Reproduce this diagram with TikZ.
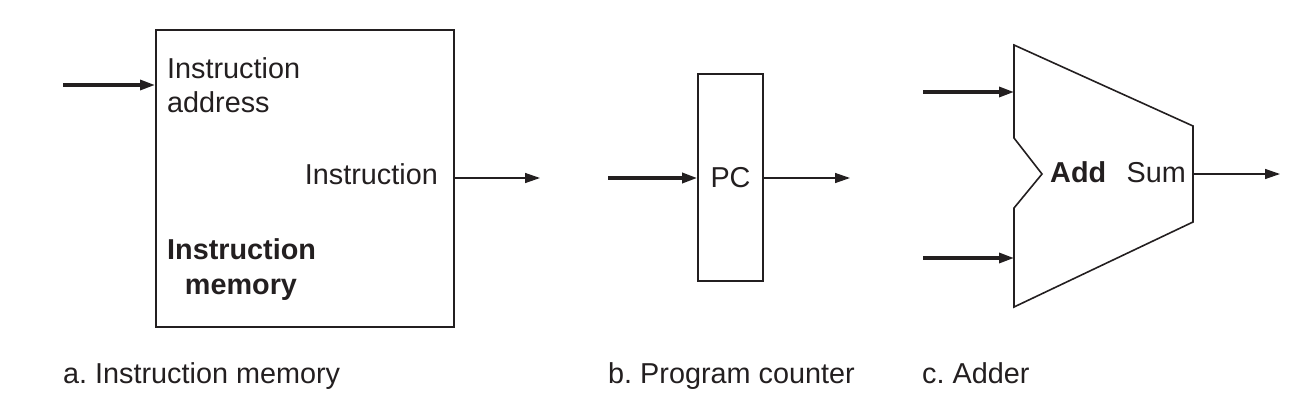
\documentclass[tikz,border=0pt]{standalone}
\usepackage{fontspec}
\setmainfont{Liberation Sans}
\usetikzlibrary{arrows.meta}
\definecolor{ink}{HTML}{231F20}
\frenchspacing
\begin{document}
\begin{tikzpicture}[x=1pt,y=-1pt,
  lbl/.style={font=\fontsize{28.8}{34}\selectfont, inner sep=0pt, text=ink},
  boldlbl/.style={lbl, font=\fontsize{28.8}{34}\selectfont\bfseries},
  box/.style={draw=ink, line width=1.6pt, inner sep=0pt, line join=miter},
  inarrow/.style={draw=ink, line width=3.2pt, -{Triangle[length=15pt,width=10pt]}},
  outarrow/.style={draw=ink, line width=1.4pt, -{Triangle[length=15pt,width=10pt]}}]
\useasboundingbox (0,0) rectangle (1302,402);

% a. Instruction memory
\node[box, minimum width=298pt, minimum height=297pt, anchor=north west] (imem) at (155,29) {};
\node[lbl, anchor=base west] (iaddr1) at (167,78) {Instruction};
\node[lbl, anchor=base west] (iaddr2) at (167,112) {address};
\node[lbl, anchor=base east] (iout) at (438,184) {Instruction};
\node[boldlbl, anchor=base west] (iname1) at (167,259) {Instruction};
\node[boldlbl, anchor=base] (iname2) at (241,294) {memory};
\coordinate (ain) at (63,85);
\coordinate (aout) at (540,178);
\draw[inarrow] (ain) -- (ain -| imem.west);
\draw[outarrow] (aout -| imem.east) -- (aout);

% b. Program counter
\node[box, lbl, draw=ink, line width=1.6pt, minimum width=65pt, minimum height=207pt] (pc) at (730.5,177.5) {PC};
\coordinate (bin) at (608,178);
\coordinate (bout) at (850,178);
\draw[inarrow] (bin) -- (bin -| pc.west);
\draw[outarrow] (bout -| pc.east) -- (bout);

% c. Adder
\coordinate (ad1) at (1014,45);
\coordinate (ad2) at (1193,126);
\coordinate (ad3) at (1193,222);
\coordinate (ad4) at (1014,307);
\coordinate (ad5) at (1014,208);
\coordinate (ad6) at (1042,174);
\coordinate (ad7) at (1014,138);
\draw[box] (ad1) -- (ad2) -- (ad3) -- (ad4) -- (ad5) -- (ad6) -- (ad7) -- cycle;
\node[boldlbl, anchor=base west] (addlbl) at (1050,182) {Add};
\node[lbl, anchor=base east] (sumlbl) at (1186,182) {Sum};
\coordinate (cin1) at (923,92);
\coordinate (cin2) at (923,258);
\coordinate (cout) at (1280,174);
\draw[inarrow] (cin1) -- (cin1 -| ad1);
\draw[inarrow] (cin2) -- (cin2 -| ad1);
\draw[outarrow] (cout -| ad2) -- (cout);

% captions
\node[lbl, anchor=base west] (capa) at (63,383) {a. Instruction memory};
\node[lbl, anchor=base west] (capb) at (608,383) {b. Program counter};
\node[lbl, anchor=base west] (capc) at (922,383) {c. Adder};
\end{tikzpicture}
\end{document}
